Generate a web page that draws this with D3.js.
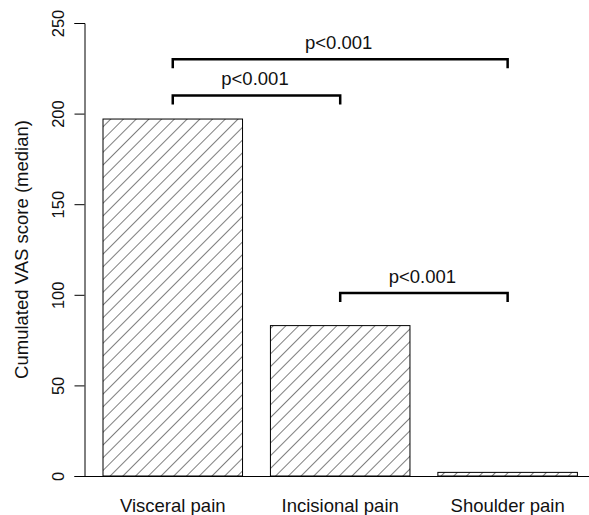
<!DOCTYPE html>
<html>
<head>
<meta charset="utf-8">
<script src="https://cdn.jsdelivr.net/npm/d3@7"></script>
<style>
  html, body { margin: 0; padding: 0; background: #fff; }
  svg text { font-family: "Liberation Sans", Arial, sans-serif; fill: #111; }
</style>
</head>
<body>
<svg id="chart" width="589" height="515"></svg>
<script>
// Pain categories and median cumulated VAS scores
const categories = ["Visceral pain", "Incisional pain", "Shoulder pain"];
const medians = [197, 83, 2];
const yTicks = [0, 50, 100, 150, 200, 250];

// Pairwise comparisons drawn as brackets above the bars
const pairFrom = ["Visceral pain", "Visceral pain", "Incisional pain"];
const pairTo = ["Shoulder pain", "Incisional pain", "Shoulder pain"];
const pairLevel = [230, 210, 101];
const pairLabel = ["p<0.001", "p<0.001", "p<0.001"];

const svg = d3.select("#chart");

const y = d3.scaleLinear().domain([0, 250]).range([476, 23]);
const x = d3.scaleBand()
  .domain(categories)
  .range([103, 577.4])
  .paddingInner(1 / 6)
  .paddingOuter(0);

// Diagonal hatch fill
const defs = svg.append("defs");
const pat = defs.append("pattern")
  .attr("id", "hatch")
  .attr("patternUnits", "userSpaceOnUse")
  .attr("width", 9)
  .attr("height", 9)
  .attr("patternTransform", "rotate(45)");
pat.append("line")
  .attr("x1", 0).attr("y1", 0)
  .attr("x2", 0).attr("y2", 9)
  .attr("stroke", "#000")
  .attr("stroke-width", 1);

// Bars
svg.append("g")
  .selectAll("rect")
  .data(categories)
  .join("rect")
  .attr("x", d => x(d))
  .attr("y", (d, i) => y(medians[i]))
  .attr("width", x.bandwidth())
  .attr("height", (d, i) => y(0) - y(medians[i]))
  .attr("fill", "url(#hatch)")
  .attr("stroke", "#000")
  .attr("stroke-width", 1);

// Baseline
svg.append("line")
  .attr("x1", 84).attr("x2", 589)
  .attr("y1", y(0) + 0.5).attr("y2", y(0) + 0.5)
  .attr("stroke", "#000");

// Y axis
const yAxis = svg.append("g")
  .attr("transform", "translate(84.5,0)")
  .call(d3.axisLeft(y).tickValues(yTicks).tickSize(10).tickPadding(0));
yAxis.select(".domain").attr("stroke", "#000");
yAxis.selectAll(".tick line").attr("stroke", "#000");
yAxis.selectAll(".tick text")
  .attr("font-size", 16.5)
  .attr("text-anchor", "middle")
  .attr("x", null)
  .attr("dy", null)
  .attr("transform", "translate(-20.5,0) rotate(-90)");

// Y axis title
svg.append("text")
  .attr("transform", "translate(28," + ((y(0) + y(250)) / 2) + ") rotate(-90)")
  .attr("text-anchor", "middle")
  .attr("font-size", 18.5)
  .text("Cumulated VAS score (median)");

// Category labels
svg.append("g")
  .selectAll("text")
  .data(categories)
  .join("text")
  .attr("x", d => x(d) + x.bandwidth() / 2)
  .attr("y", 512)
  .attr("text-anchor", "middle")
  .attr("font-size", 18.5)
  .text(d => d);

// Significance brackets
const cx = d => x(d) + x.bandwidth() / 2;
const br = svg.append("g");
pairLevel.forEach((lv, i) => {
  const x1 = cx(pairFrom[i]), x2 = cx(pairTo[i]), yy = y(lv);
  br.append("path")
    .attr("d", `M${x1},${yy + 9}V${yy}H${x2}V${yy + 9}`)
    .attr("fill", "none")
    .attr("stroke", "#000")
    .attr("stroke-width", 2.5);
  br.append("text")
    .attr("x", (x1 + x2) / 2 - 1.5)
    .attr("y", yy - 10)
    .attr("text-anchor", "middle")
    .attr("font-size", 18.5)
    .text(pairLabel[i]);
});
</script>
</body>
</html>
